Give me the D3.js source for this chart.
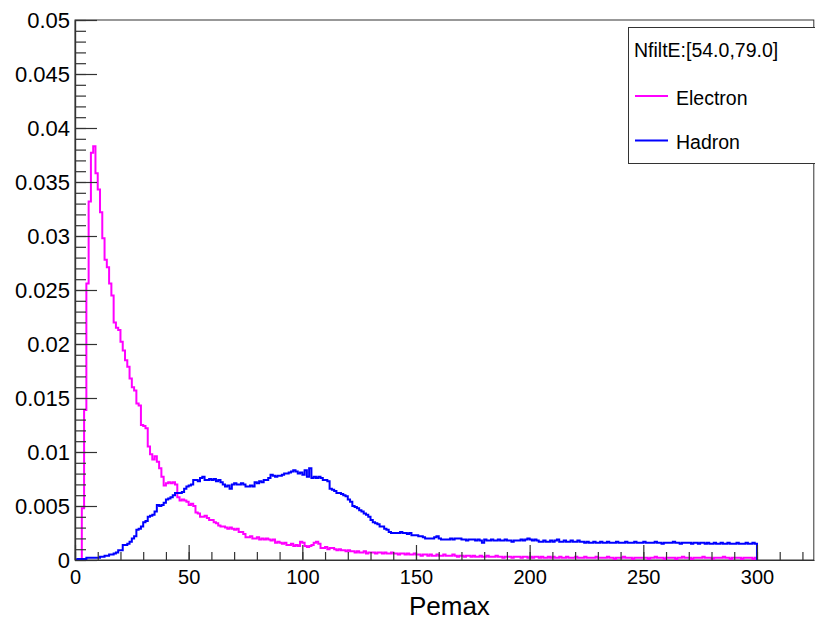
<!DOCTYPE html>
<html>
<head>
<meta charset="utf-8">
<script src="https://cdn.jsdelivr.net/npm/d3@7"></script>
<style>
  html, body { margin: 0; padding: 0; background: #ffffff; }
  svg { display: block; }
  text { font-family: "Liberation Sans", Arial, Helvetica, sans-serif; fill: #000; }
</style>
</head>
<body>
<svg id="chart" width="815" height="620"></svg>
<script>
// Pemax distributions, 1-unit bins from 0 to 300, normalised to unit area
const binLow = 0;
const binWidth = 1;

const electron = [
  0, 0, 0, 0.0048, 0.0139, 0.0256, 0.0332, 0.0377, 0.0383, 0.0358,
  0.0343, 0.0322, 0.0298, 0.0278, 0.0271, 0.0256, 0.0245, 0.0220, 0.0215, 0.0213,
  0.0202, 0.0194, 0.0185, 0.0179, 0.0168, 0.0160, 0.0157, 0.0145, 0.0143, 0.0125,
  0.0124, 0.0122, 0.0105, 0.0098, 0.0093, 0.0096, 0.0091, 0.0085, 0.0077, 0.0069,
  0.0071, 0.0072, 0.0071, 0.0072, 0.0070, 0.0058, 0.0055, 0.0056, 0.0055, 0.0054,
  0.0051, 0.0052, 0.0050, 0.0044, 0.0043, 0.0040, 0.0040, 0.0041, 0.0039, 0.0037,
  0.0037, 0.0035, 0.0034, 0.0032, 0.0031, 0.0031, 0.0030, 0.0029, 0.0030, 0.0029,
  0.0028, 0.0029, 0.0026, 0.0026, 0.0024, 0.0021, 0.0021, 0.0022, 0.0020, 0.0020,
  0.0021, 0.0019, 0.0020, 0.0019, 0.0020, 0.0019, 0.0018, 0.0019, 0.0016, 0.0017,
  0.0016, 0.0015, 0.0016, 0.0014, 0.0014, 0.0015, 0.0013, 0.0014, 0.0013, 0.0017,
  0.0016, 0.0013, 0.0012, 0.0013, 0.0014, 0.0016, 0.0017, 0.0015, 0.0011, 0.0011,
  0.0012, 0.0010, 0.0011, 0.0011, 0.0010, 0.0009, 0.0010, 0.0009, 0.0009, 0.0008,
  0.0009, 0.0008, 0.0008, 0.0007, 0.0008, 0.0007, 0.0007, 0.0008, 0.0006, 0.0007,
  0.0007, 0.0007, 0.0006, 0.0007, 0.0007, 0.0006, 0.0007, 0.0006, 0.0006, 0.0007,
  0.0006, 0.0006, 0.0005, 0.0006, 0.0006, 0.0005, 0.0006, 0.0005, 0.0005, 0.0006,
  0.0005, 0.0005, 0.0004, 0.0005, 0.0005, 0.0004, 0.0005, 0.0004, 0.0004, 0.0005,
  0.0004, 0.0004, 0.0005, 0.0004, 0.0004, 0.0004, 0.0005, 0.0004, 0.0003, 0.0004,
  0.0004, 0.0003, 0.0004, 0.0004, 0.0003, 0.0004, 0.0003, 0.0003, 0.0004, 0.0003,
  0.0003, 0.0004, 0.0003, 0.0003, 0.0003, 0.0004, 0.0003, 0.0003, 0.0002, 0.0003,
  0.0003, 0.0003, 0.0002, 0.0003, 0.0003, 0.0003, 0.0002, 0.0003, 0.0003, 0.0002,
  0.0003, 0.0002, 0.0003, 0.0003, 0.0002, 0.0003, 0.0002, 0.0002, 0.0003, 0.0002,
  0.0003, 0.0002, 0.0002, 0.0003, 0.0002, 0.0002, 0.0003, 0.0002, 0.0002, 0.0002,
  0.0003, 0.0002, 0.0002, 0.0002, 0.0003, 0.0002, 0.0002, 0.0002, 0.0002, 0.0003,
  0.0002, 0.0002, 0.0002, 0.0002, 0.0003, 0.0002, 0.0002, 0.0001, 0.0002, 0.0002,
  0.0002, 0.0003, 0.0002, 0.0002, 0.0002, 0.0001, 0.0002, 0.0002, 0.0002, 0.0002,
  0.0002, 0.0002, 0.0001, 0.0002, 0.0002, 0.0003, 0.0002, 0.0002, 0.0002, 0.0001,
  0.0002, 0.0002, 0.0002, 0.0002, 0.0001, 0.0002, 0.0002, 0.0003, 0.0002, 0.0002,
  0.0002, 0.0001, 0.0002, 0.0002, 0.0002, 0.0002, 0.0003, 0.0002, 0.0002, 0.0002,
  0.0001, 0.0002, 0.0002, 0.0002, 0.0002, 0.0003, 0.0002, 0.0002, 0.0001, 0.0002,
  0.0002, 0.0002, 0.0002, 0.0001, 0.0002, 0.0002, 0.0002, 0.0002, 0.0001, 0.0002
];

const hadron = [
  0.0000, 0.0001, 0.0001, 0.0001, 0.0001, 0.0002, 0.0002, 0.0002, 0.0002, 0.0002,
  0.0002, 0.0003, 0.0003, 0.0004, 0.0004, 0.0005, 0.0005, 0.0006, 0.0007, 0.0009,
  0.0009, 0.0014, 0.0014, 0.0015, 0.0017, 0.0020, 0.0022, 0.0028, 0.0029, 0.0031,
  0.0035, 0.0036, 0.0040, 0.0041, 0.0042, 0.0045, 0.0051, 0.0050, 0.0051, 0.0053,
  0.0056, 0.0057, 0.0058, 0.0060, 0.0062, 0.0062, 0.0062, 0.0063, 0.0066, 0.0068,
  0.0069, 0.0070, 0.0074, 0.0074, 0.0073, 0.0076, 0.0077, 0.0074, 0.0074, 0.0075,
  0.0074, 0.0075, 0.0073, 0.0074, 0.0072, 0.0070, 0.0068, 0.0069, 0.0066, 0.0070,
  0.0071, 0.0070, 0.0070, 0.0071, 0.0070, 0.0068, 0.0068, 0.0069, 0.0068, 0.0072,
  0.0071, 0.0073, 0.0072, 0.0074, 0.0074, 0.0076, 0.0079, 0.0078, 0.0077, 0.0078,
  0.0078, 0.0079, 0.0080, 0.0080, 0.0081, 0.0082, 0.0083, 0.0082, 0.0080, 0.0081,
  0.0079, 0.0083, 0.0077, 0.0085, 0.0076, 0.0077, 0.0076, 0.0077, 0.0076, 0.0074,
  0.0074, 0.0073, 0.0066, 0.0065, 0.0064, 0.0062, 0.0062, 0.0061, 0.0060, 0.0059,
  0.0056, 0.0054, 0.0050, 0.0049, 0.0048, 0.0046, 0.0045, 0.0043, 0.0042, 0.0040,
  0.0037, 0.0035, 0.0034, 0.0033, 0.0031, 0.0031, 0.0029, 0.0028, 0.0026, 0.0025,
  0.0025, 0.0025, 0.0025, 0.0026, 0.0025, 0.0025, 0.0024, 0.0025, 0.0023, 0.0023,
  0.0023, 0.0022, 0.0022, 0.0021, 0.0020, 0.0020, 0.0020, 0.0020, 0.0021, 0.0022,
  0.0020, 0.0019, 0.0019, 0.0019, 0.0019, 0.0020, 0.0019, 0.0020, 0.0020, 0.0020,
  0.0019, 0.0019, 0.0018, 0.0019, 0.0019, 0.0019, 0.0018, 0.0019, 0.0018, 0.0016,
  0.0019, 0.0018, 0.0018, 0.0019, 0.0018, 0.0018, 0.0019, 0.0018, 0.0018, 0.0019,
  0.0018, 0.0018, 0.0017, 0.0018, 0.0018, 0.0018, 0.0019, 0.0018, 0.0019, 0.0020,
  0.0019, 0.0018, 0.0019, 0.0018, 0.0017, 0.0017, 0.0018, 0.0017, 0.0017, 0.0018,
  0.0017, 0.0018, 0.0019, 0.0017, 0.0017, 0.0018, 0.0017, 0.0017, 0.0018, 0.0017,
  0.0017, 0.0018, 0.0017, 0.0017, 0.0016, 0.0017, 0.0016, 0.0016, 0.0017, 0.0016,
  0.0016, 0.0017, 0.0016, 0.0016, 0.0017, 0.0016, 0.0016, 0.0016, 0.0017, 0.0016,
  0.0016, 0.0016, 0.0017, 0.0016, 0.0016, 0.0016, 0.0017, 0.0016, 0.0016, 0.0016,
  0.0017, 0.0016, 0.0016, 0.0016, 0.0016, 0.0017, 0.0016, 0.0016, 0.0015, 0.0016,
  0.0016, 0.0016, 0.0016, 0.0017, 0.0016, 0.0016, 0.0015, 0.0016, 0.0016, 0.0016,
  0.0016, 0.0015, 0.0016, 0.0016, 0.0015, 0.0016, 0.0016, 0.0015, 0.0016, 0.0015,
  0.0015, 0.0016, 0.0015, 0.0015, 0.0016, 0.0015, 0.0015, 0.0016, 0.0015, 0.0015,
  0.0015, 0.0016, 0.0015, 0.0015, 0.0015, 0.0016, 0.0015, 0.0015, 0.0016, 0.0015
];

const seriesNames = ["Electron", "Hadron"];
const seriesColors = ["#ff00ff", "#0000ff"];
const legendTitle = "NfiltE:[54.0,79.0]";
const xTitle = "Pemax";

const xTicks = [0, 50, 100, 150, 200, 250, 300];
const yTicks = [0, 0.005, 0.01, 0.015, 0.02, 0.025, 0.03, 0.035, 0.04, 0.045, 0.05];

const svg = d3.select("#chart");
const W = 815, H = 620;
const frame = { left: 75, right: 813.8, top: 20, bottom: 560 };

const x = d3.scaleLinear().domain([0, 325]).range([frame.left, frame.right]);
const y = d3.scaleLinear().domain([0, 0.05]).range([frame.bottom, frame.top]);

svg.append("rect").attr("width", W).attr("height", H).attr("fill", "#ffffff");

// Frame box
svg.append("rect")
  .attr("x", frame.left).attr("y", frame.top)
  .attr("width", frame.right - frame.left).attr("height", frame.bottom - frame.top)
  .attr("fill", "none").attr("stroke", "#333").attr("stroke-width", 1);

// Histogram outlines as step paths
function stepPoints(values) {
  const pts = [[binLow, 0]];
  values.forEach((v, i) => pts.push([binLow + i * binWidth, v]));
  const last = values.length;
  pts.push([binLow + last * binWidth, values[last - 1]]);
  pts.push([binLow + last * binWidth, 0]);
  return pts;
}
const line = d3.line()
  .x(d => x(d[0]))
  .y(d => y(d[1]))
  .curve(d3.curveStepAfter);

[electron, hadron].forEach((vals, k) => {
  svg.append("path")
    .attr("d", line(stepPoints(vals)))
    .attr("fill", "none")
    .attr("stroke", seriesColors[k])
    .attr("stroke-width", 2)
    .attr("stroke-linejoin", "miter");
});

// Axes
const axisColor = "#333";
function styleAxis(g) {
  g.selectAll(".domain").attr("stroke", axisColor).attr("stroke-width", 1.2);
  g.selectAll(".tick line").attr("stroke", axisColor).attr("stroke-width", 1.2);
  g.selectAll("text").attr("fill", "#000").style("font-family", "'Liberation Sans', Arial, sans-serif");
}

// x minor ticks
svg.append("g")
  .attr("transform", `translate(0,${frame.bottom})`)
  .call(d3.axisBottom(x).tickValues(d3.range(0, 321, 10)).tickSizeInner(-8).tickSizeOuter(0).tickFormat(""))
  .call(styleAxis);
// x major ticks + labels
const gx = svg.append("g")
  .attr("transform", `translate(0,${frame.bottom})`)
  .call(d3.axisBottom(x).tickValues(xTicks).tickSizeInner(-15).tickSizeOuter(0).tickPadding(10).tickFormat(d3.format("d")))
  .call(styleAxis);
gx.selectAll("text").style("font-size", "20px");

// y minor ticks
svg.append("g")
  .attr("transform", `translate(${frame.left},0)`)
  .call(d3.axisLeft(y).tickValues(d3.range(0, 51).map(i => i / 1000)).tickSizeInner(-11).tickSizeOuter(0).tickFormat(""))
  .call(styleAxis);
// y major ticks + labels
const gy = svg.append("g")
  .attr("transform", `translate(${frame.left},0)`)
  .call(d3.axisLeft(y).tickValues(yTicks).tickSizeInner(-22).tickSizeOuter(0).tickPadding(5)
    .tickFormat(d => String(+d.toFixed(4))))
  .call(styleAxis);
gy.selectAll("text").style("font-size", "22px").attr("dy", "0.36em");

// Axis title
svg.append("text")
  .attr("x", (frame.left + frame.right) / 2 + 5)
  .attr("y", 615)
  .attr("text-anchor", "middle")
  .style("font-size", "26px")
  .text(xTitle);

// Legend
const lg = svg.append("g");
lg.append("rect")
  .attr("x", 628.5).attr("y", 27.5).attr("width", 200).attr("height", 136)
  .attr("fill", "#ffffff").attr("stroke", "#333").attr("stroke-width", 1);
lg.append("text").attr("x", 634).attr("y", 57).style("font-size", "19.5px").text(legendTitle);
seriesNames.forEach((name, k) => {
  const cy = 96 + k * 44.5;
  lg.append("line")
    .attr("x1", 635).attr("x2", 668).attr("y1", cy).attr("y2", cy)
    .attr("stroke", seriesColors[k]).attr("stroke-width", 2);
  lg.append("text").attr("x", 676).attr("y", cy + 8.5).style("font-size", "19.5px").text(name);
});
</script>
</body>
</html>
